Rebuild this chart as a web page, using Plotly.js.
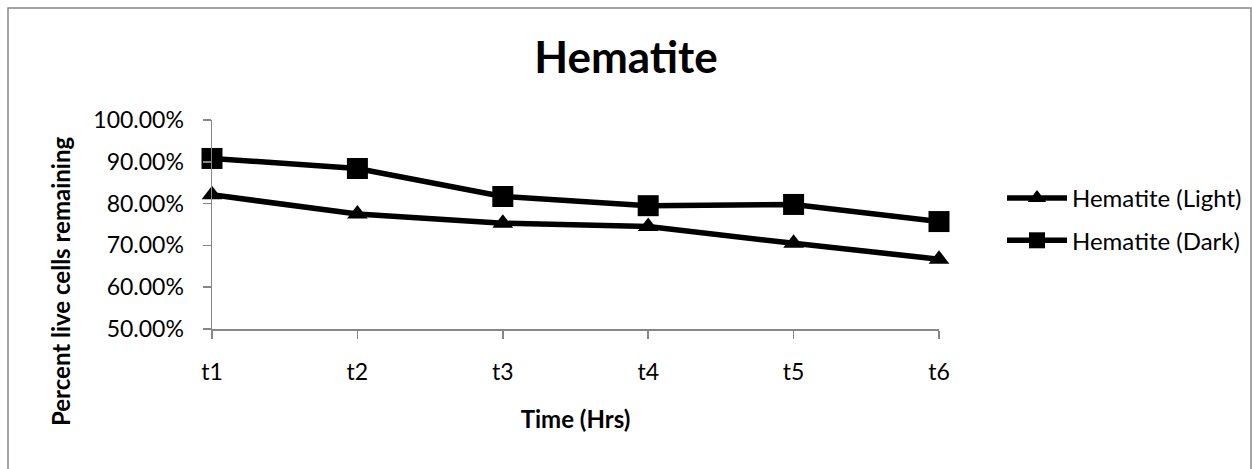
<!DOCTYPE html>
<html>
<head>
<meta charset="utf-8">
<script src="https://cdn.plot.ly/plotly-3.0.1.min.js"></script>
<style>
  html, body { margin: 0; padding: 0; background: #ffffff; }
  #chart { width: 1252px; height: 469px; }
</style>
</head>
<body>
<div id="chart"></div>
<script>
// Time points on the horizontal axis
const timePoints = ['t1', 't2', 't3', 't4', 't5', 't6'];

// Fraction of live cells remaining at each time point
const lightValues = [0.821, 0.775, 0.753, 0.745, 0.705, 0.667];
const darkValues  = [0.908, 0.884, 0.817, 0.795, 0.798, 0.757];

const seriesNames = ['Hematite (Light)', 'Hematite (Dark)'];
const yTicks = [0.5, 0.6, 0.7, 0.8, 0.9, 1.0];

const FONT = 'Lato, "Open Sans", sans-serif';
const AXIS_GRAY = '#868686';

const traces = [
  {
    x: timePoints, y: lightValues, name: seriesNames[0],
    type: 'scatter', mode: 'lines+markers', cliponaxis: false,
    legendgroup: 'light',
    line: { color: '#000000', width: 5.5 },
    marker: { symbol: 'triangle-up', size: 18, color: '#000000' }
  },
  {
    x: timePoints, y: darkValues, name: seriesNames[1],
    type: 'scatter', mode: 'lines+markers', cliponaxis: false,
    legendgroup: 'dark',
    line: { color: '#000000', width: 5.5 },
    marker: { symbol: 'square', size: 21, color: '#000000' }
  }
];

// Plot area spans x 212..939 and y 120..329 in page pixels
const L = 212, R = 939, T = 120, B = 329, W = 1252, H = 469;
const px = v => (v - L) / (R - L);
const py = v => (B - v) / (B - T);

const layout = {
  width: W, height: H,
  margin: { l: L, r: W - R, t: T, b: H - B },
  paper_bgcolor: '#ffffff', plot_bgcolor: '#ffffff',
  font: { family: FONT, size: 23, color: '#000000' },
  title: {
    text: '<b>Hematite</b>',
    font: { family: FONT, size: 44, color: '#000000' },
    x: 0.5, xref: 'container', xanchor: 'center',
    y: 1 - 58 / H, yref: 'container', yanchor: 'middle'
  },
  xaxis: {
    type: 'category', range: [0, timePoints.length - 1],
    showline: true, linecolor: AXIS_GRAY, linewidth: 1.5,
    ticks: 'outside', ticklen: 8, tickcolor: AXIS_GRAY, tickwidth: 1.5,
    showgrid: false, zeroline: false, fixedrange: true,
    ticklabelstandoff: 14,
    tickfont: { family: FONT, size: 23, color: '#000000' },
    title: {
      text: '<b>Time (Hrs)</b>', standoff: 27,
      font: { family: FONT, size: 24, color: '#000000' }
    }
  },
  yaxis: {
    range: [0.5, 1.0], tickvals: yTicks, tickformat: '.2%',
    showline: true, linecolor: AXIS_GRAY, linewidth: 1.5,
    ticks: 'outside', ticklen: 8, tickcolor: AXIS_GRAY, tickwidth: 1.5,
    showgrid: false, zeroline: false, fixedrange: true,
    ticklabelstandoff: 14,
    tickfont: { family: FONT, size: 23, color: '#000000' }
  },
  // Vertical axis title, centred on the full chart height rather than the plot area
  annotations: [
    {
      text: '<b>Percent live cells remaining</b>',
      xref: 'paper', yref: 'paper', x: px(60), y: py(282),
      xanchor: 'center', yanchor: 'middle', textangle: -90,
      showarrow: false,
      font: { family: FONT, size: 24, color: '#000000' }
    }
  ],
  showlegend: true,
  legend: {
    xref: 'container', yref: 'container',
    x: 1002 / W, xanchor: 'left', y: 1 - 176 / H, yanchor: 'top',
    font: { family: FONT, size: 24, color: '#000000' },
    itemwidth: 60, tracegroupgap: 8, bgcolor: 'rgba(0,0,0,0)',
    itemsizing: 'trace'
  },
  shapes: [
    {
      type: 'rect', xref: 'paper', yref: 'paper', layer: 'below',
      x0: px(8), x1: px(1251), y0: py(8), y1: py(520),
      line: { color: AXIS_GRAY, width: 1.5 }, fillcolor: 'rgba(0,0,0,0)'
    }
  ]
};

Plotly.newPlot('chart', traces, layout, { staticPlot: true, displayModeBar: false });
</script>
</body>
</html>
